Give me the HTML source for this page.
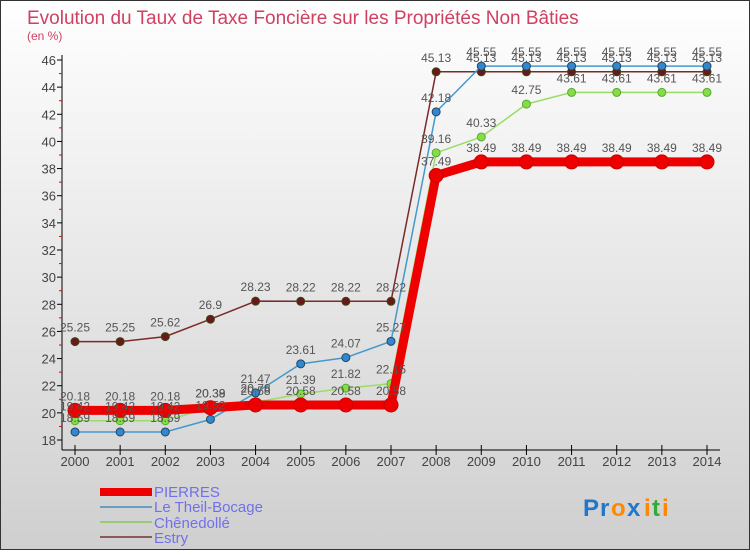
<!DOCTYPE html>
<html><head><meta charset="utf-8"><style>
body{margin:0;width:750px;height:550px;overflow:hidden;font-family:"Liberation Sans",sans-serif}
svg text{font-family:"Liberation Sans",sans-serif}
</style></head><body>
<svg id="c" width="750" height="550" xmlns="http://www.w3.org/2000/svg">
<defs><linearGradient id="bg" x1="0" y1="0" x2="0" y2="1"><stop offset="0" stop-color="#ffffff"/><stop offset="1" stop-color="#cfcfcf"/></linearGradient></defs>
<rect x="0.5" y="0.5" width="749" height="549" fill="url(#bg)" stroke="#333"/>
<text x="27" y="24" font-size="19" fill="#d04060">Evolution du Taux de Taxe Foncière sur les Propriétés Non Bâties</text>
<text x="27" y="40" font-size="12" fill="#d04060">(en %)</text>
<g id="axes"></g><g id="series"></g><g id="labels"></g>
<g>
<rect x="100" y="488" width="52" height="8" fill="#ee0000"/>
<line x1="100" y1="507" x2="152" y2="507" stroke="#6a9ec0" stroke-width="2"/>
<line x1="100" y1="522" x2="152" y2="522" stroke="#99cc77" stroke-width="2"/>
<line x1="100" y1="537" x2="152" y2="537" stroke="#8a5a5a" stroke-width="2"/>
<g font-size="15" fill="#7070ee">
<text x="154" y="497">PIERRES</text>
<text x="154" y="512">Le Theil-Bocage</text>
<text x="154" y="528">Chênedollé</text>
<text x="154" y="543">Estry</text>
</g></g>
<g font-size="24" font-weight="bold">
<text x="583" y="516" fill="#2277cc">P</text><text x="600" y="516" fill="#2277cc">r</text><text x="611" y="516" fill="#ff8800">o</text><text x="627" y="516" fill="#2277cc">x</text><text x="644" y="516" fill="#ff8800">i</text><text x="652" y="516" fill="#33aa33">t</text><text x="662" y="516" fill="#ff8800">i</text>
</g>
</svg>
<script>
const years=[2000,2001,2002,2003,2004,2005,2006,2007,2008,2009,2010,2011,2012,2013,2014];
const yTicks=[18,20,22,24,26,28,30,32,34,36,38,40,42,44,46];
const pierres=[20.18,20.18,20.18,20.38,20.58,20.58,20.58,20.58,37.49,38.49,38.49,38.49,38.49,38.49,38.49];
const theil=[18.59,18.59,18.59,19.52,21.47,23.61,24.07,25.27,42.18,45.55,45.55,45.55,45.55,45.55,45.55];
const chenedolle=[19.42,19.42,19.42,20.39,20.78,21.39,21.82,22.15,39.16,40.33,42.75,43.61,43.61,43.61,43.61];
const estry=[25.25,25.25,25.62,26.9,28.23,28.22,28.22,28.22,45.13,45.13,45.13,45.13,45.13,45.13,45.13];
const NS="http://www.w3.org/2000/svg";
const X=i=>75+i*(707-75)/(years.length-1);
const Y=v=>440-(v-18)*(380/28);
function mk(p,t,a){const e=document.createElementNS(NS,t);for(const k in a)e.setAttribute(k,a[k]);p.appendChild(e);return e;}
const ax=document.getElementById('axes');
let l=mk(ax,'line',{x1:62,y1:55,x2:62,y2:450,stroke:'#000'});

l=mk(ax,'line',{x1:62,y1:450,x2:720,y2:450,stroke:'#000'});

yTicks.forEach(v=>{
 const y=Y(v);
 mk(ax,'line',{x1:57,y1:y,x2:62,y2:y,stroke:'#000'});
 if(v<46)mk(ax,'line',{x1:59,y1:Y(v+1),x2:62,y2:Y(v+1),stroke:'#e00'});
 const t=mk(ax,'text',{x:56,y:y+5,'text-anchor':'end','font-size':13,fill:'#444'});
 t.textContent=v;
 
});
years.forEach((yr,i)=>{
 mk(ax,'line',{x1:X(i),y1:445,x2:X(i),y2:455,stroke:'#000'});
 const t=mk(ax,'text',{x:X(i),y:466,'text-anchor':'middle','font-size':13,fill:'#444'});
 t.textContent=yr;
 
});
const sg=document.getElementById('series'),lg=document.getElementById('labels');
function draw(d,name,col,w,r,dot,stroke){
 const pts=d.map((v,i)=>X(i)+','+Y(v)).join(' ');
 const pl=mk(sg,'polyline',{points:pts,fill:'none',stroke:col,'stroke-width':w});
 
 d.forEach((v,i)=>{
  const c=mk(sg,'circle',{cx:X(i),cy:Y(v),r:r,fill:dot,stroke:stroke,'stroke-width':1});
  
  const t=mk(lg,'text',{x:X(i),y:Y(v)-10,'text-anchor':'middle','font-size':12,fill:'#555'});
  t.textContent=v;
  
 });
}
draw(estry,'estry','#7a2a2a',1.5,4,'#661a1a','#441');
draw(chenedolle,'chenedolle','#99dd66',1.5,4,'#88dd44','#5a3');
draw(theil,'theil','#4499cc',1.5,4,'#3388cc','#246');
draw(pierres,'pierres','#ee0000',9,7,'#ee0000','#c00');
</script>
</body></html>
